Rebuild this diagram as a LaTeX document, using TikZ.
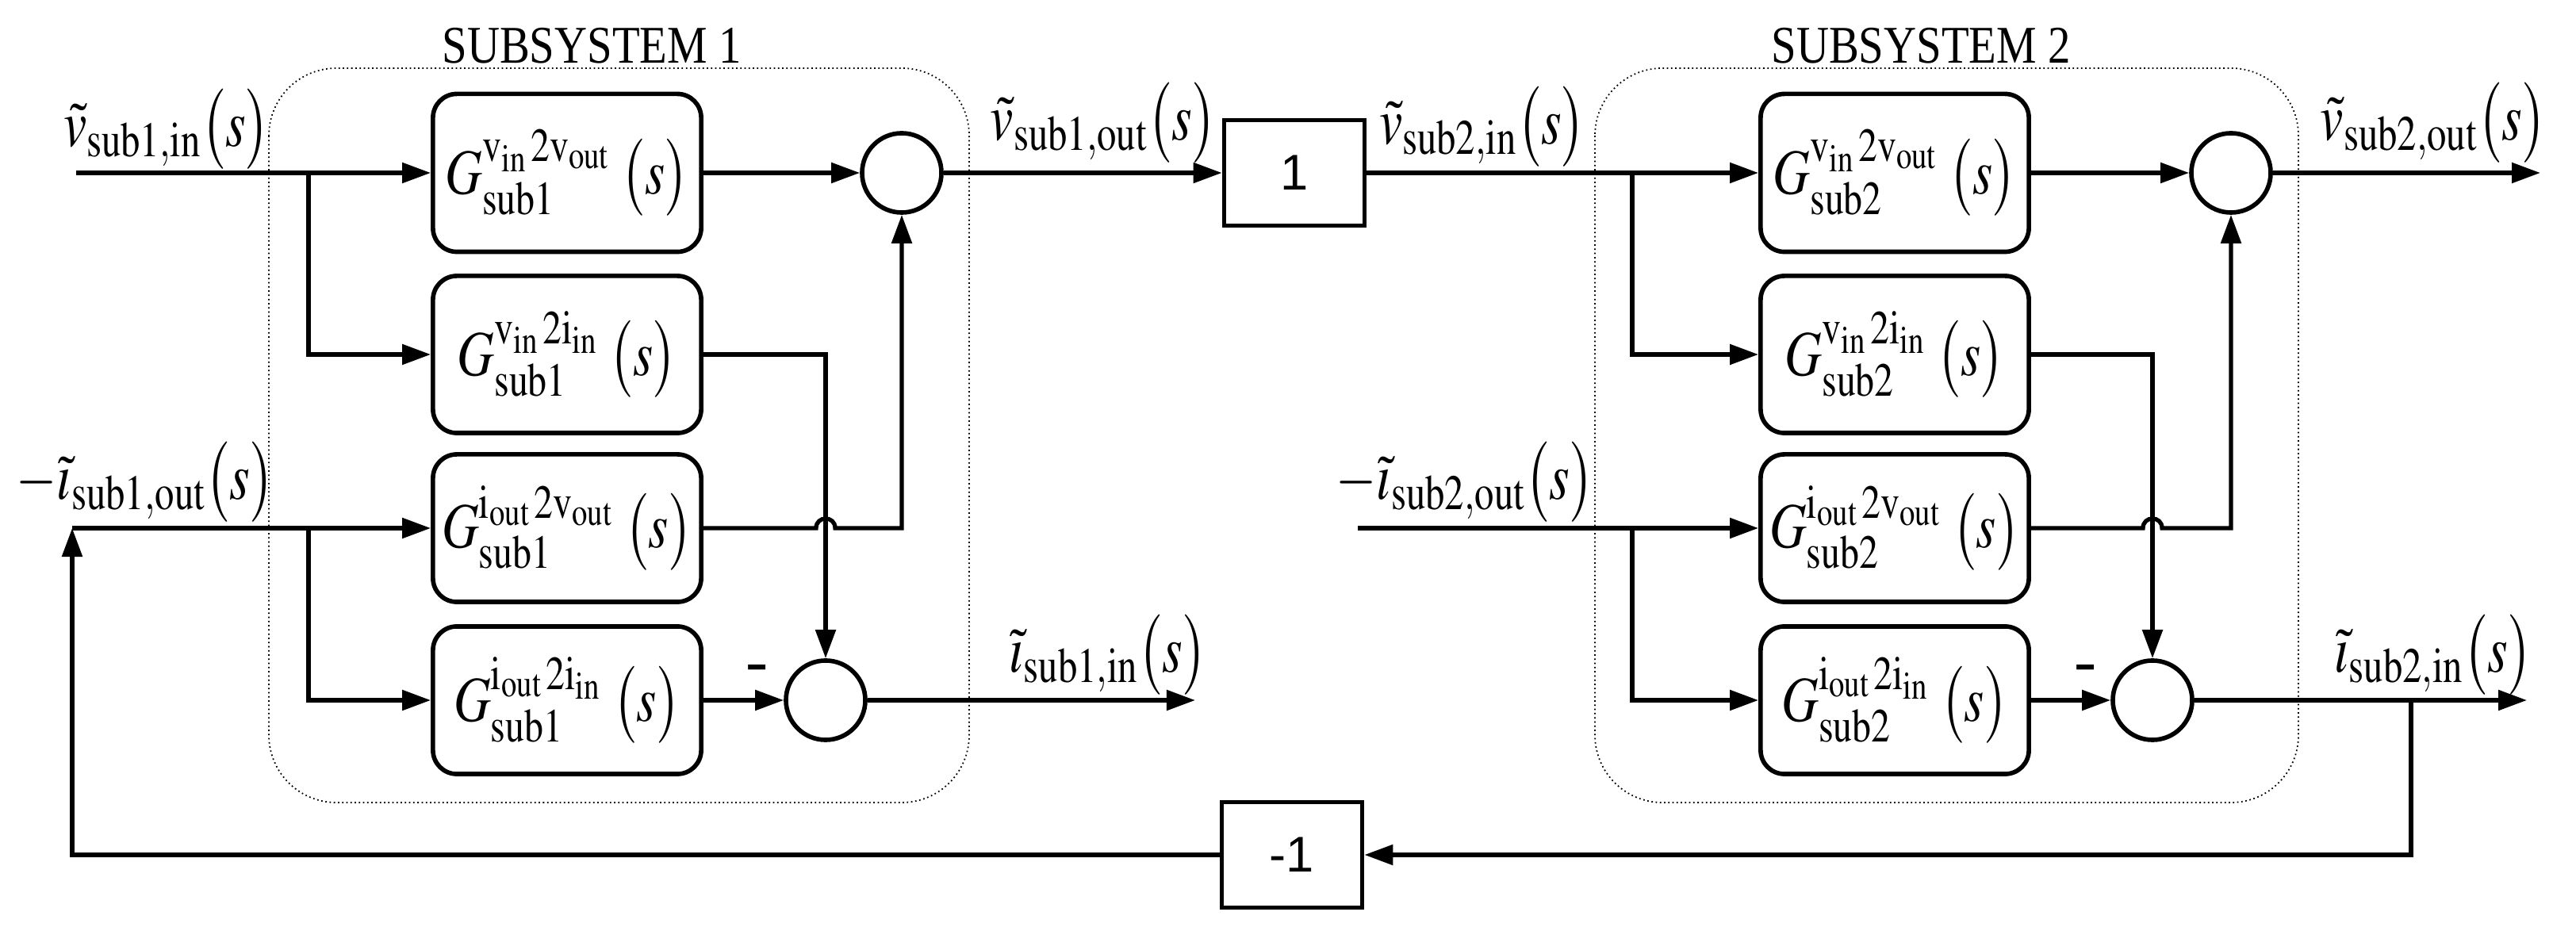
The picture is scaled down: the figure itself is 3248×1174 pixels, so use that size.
\documentclass[tikz,border=0pt]{standalone}
\usepackage{mathptmx}
\usepackage{fontspec}
\setmainfont{Liberation Serif}
\newfontfamily\arialf{Liberation Sans}
\usetikzlibrary{arrows.meta}
\newcommand{\nx}[1]{\scalebox{0.78}[1]{$#1$}}
\newcommand{\blk}[5]{\scalebox{0.8}[1]{$G^{\mathrm{#1}_{\mathrm{#2}}\,\mathrm{2#3}_{\mathrm{#4}}}_{\mathrm{sub#5}}\;\big(s\big)$}}
\begin{document}
\begin{tikzpicture}[x=0.01cm,y=-0.01cm,
  ln/.style={line width=1.5pt},
  ar/.style={ln,-{Triangle[length=0.36cm,width=0.25cm]}},
  blk/.style={draw,line width=1.6pt,rounded corners=0.3cm,minimum width=3.38cm,inner sep=0pt,font=\fontsize{23}{26}\selectfont},
  sm/.style={draw,circle,line width=1.6pt,minimum size=1cm,inner sep=0pt},
  gain/.style={draw,line width=1.6pt,minimum width=1.77cm,minimum height=1.33cm,font=\arialf\fontsize{18}{22}\selectfont},
  sub/.style={draw,densely dotted,line width=0.5pt,rounded corners=0.85cm},
  lab/.style={font=\fontsize{24}{28}\selectfont,inner sep=0pt},
  ttl/.style={font=\fontsize{19}{22}\selectfont,inner sep=0pt}]
\useasboundingbox (0,0) rectangle (3248,1174);
% subsystem frames
\draw[sub] (339,86) rectangle (1222,1012);
\draw[sub] (2011,86) rectangle (2898,1012);
\node[ttl] (t1) at (746,58) {\scalebox{0.85}[1]{SUBSYSTEM 1}};
\node[ttl] (t2) at (2422,58) {\scalebox{0.85}[1]{SUBSYSTEM 2}};
% left blocks
\node[blk,minimum height=1.99cm] (b11) at (715,218) {\blk{v}{in}{v}{out}{1}};
\node[blk,minimum height=1.98cm] (b12) at (715,447) {\blk{v}{in}{i}{in}{1}};
\node[blk,minimum height=1.86cm] (b13) at (715,666) {\blk{i}{out}{v}{out}{1}};
\node[blk,minimum height=1.86cm] (b14) at (715,883) {\blk{i}{out}{i}{in}{1}};
\node[sm] (s11) at (1137,218) {};
\node[sm] (s12) at (1041,883) {};
% right blocks
\node[blk,minimum height=1.99cm] (b21) at (2389,218) {\blk{v}{in}{v}{out}{2}};
\node[blk,minimum height=1.98cm] (b22) at (2389,447) {\blk{v}{in}{i}{in}{2}};
\node[blk,minimum height=1.86cm] (b23) at (2389,666) {\blk{i}{out}{v}{out}{2}};
\node[blk,minimum height=1.86cm] (b24) at (2389,883) {\blk{i}{out}{i}{in}{2}};
\node[sm] (s21) at (2813,218) {};
\node[sm] (s22) at (2714,883) {};
% gains
\node[gain] (one) at (1632,218) {1};
\node[gain] (m1) at (1629,1078) {-1};
% coordinates
\coordinate (in1) at (96,218);
\coordinate (br11) at (389,218);
\coordinate (br12) at (389,447);
\coordinate (fb1) at (91,666);
\coordinate (fb2) at (91,1078);
\coordinate (br13) at (389,666);
\coordinate (br14) at (389,883);
\coordinate (c12) at (1041,447);
\coordinate (j1a) at (1029,666);
\coordinate (j1b) at (1053,666);
\coordinate (c13) at (1137,666);
\coordinate (o12) at (1507,883);
\coordinate (br21) at (2058,218);
\coordinate (br22) at (2058,447);
\coordinate (in2) at (1712,666);
\coordinate (br23) at (2058,666);
\coordinate (br24) at (2058,883);
\coordinate (c22) at (2714,447);
\coordinate (j2a) at (2702,666);
\coordinate (j2b) at (2726,666);
\coordinate (c23) at (2813,666);
\coordinate (o21) at (3203,218);
\coordinate (o22) at (3186,883);
\coordinate (tap) at (3040,883);
\coordinate (tapd) at (3040,1078);
% left connectors
\draw[ar] (in1) -- (b11.west);
\draw[ar] (br11) -- (br12) -- (b12.west);
\draw[ar] (b11.east) -- (s11.west);
\draw[ar] (b12.east) -- (c12) -- (s12.north);
\draw[ar] (b13.east) -- (j1a) .. controls (1029,650) and (1053,650) .. (j1b) -- (c13) -- (s11.south);
\draw[ar] (b14.east) -- (s12.west);
\draw[ar] (s11.east) -- (one.west);
\draw[ar] (s12.east) -- (o12);
\draw[ar] (m1.west) -- (fb2) -- (fb1);
\draw[ar] (fb1) -- (b13.west);
\draw[ar] (br13) -- (br14) -- (b14.west);
% right connectors
\draw[ar] (one.east) -- (b21.west);
\draw[ar] (br21) -- (br22) -- (b22.west);
\draw[ar] (b21.east) -- (s21.west);
\draw[ar] (b22.east) -- (c22) -- (s22.north);
\draw[ar] (b23.east) -- (j2a) .. controls (2702,650) and (2726,650) .. (j2b) -- (c23) -- (s21.south);
\draw[ar] (b24.east) -- (s22.west);
\draw[ar] (in2) -- (b23.west);
\draw[ar] (br23) -- (br24) -- (b24.west);
\draw[ar] (s21.east) -- (o21);
\draw[ar] (s22.east) -- (o22);
\draw[ar] (tap) -- (tapd) -- (m1.east);
% labels
\node[lab] (l1) at (210,163) {\nx{\tilde{v}_{\mathrm{sub1,in}}\big(s\big)}};
\node[lab] (l2) at (183,608) {\nx{-\tilde{\imath}_{\mathrm{sub1,out}}\big(s\big)}};
\node[lab] (l3) at (1391,155) {\nx{\tilde{v}_{\mathrm{sub1,out}}\big(s\big)}};
\node[lab] (l4) at (1397,826) {\nx{\tilde{\imath}_{\mathrm{sub1,in}}\big(s\big)}};
\node[lab] (l5) at (1869,160) {\nx{\tilde{v}_{\mathrm{sub2,in}}\big(s\big)}};
\node[lab] (l6) at (1847,608) {\nx{-\tilde{\imath}_{\mathrm{sub2,out}}\big(s\big)}};
\node[lab] (l7) at (3068,155) {\nx{\tilde{v}_{\mathrm{sub2,out}}\big(s\big)}};
\node[lab] (l8) at (3068,826) {\nx{\tilde{\imath}_{\mathrm{sub2,in}}\big(s\big)}};
\node[lab] (n1) at (955,850) {-};
\node[lab] (n2) at (2630,850) {-};
\end{tikzpicture}
\end{document}
